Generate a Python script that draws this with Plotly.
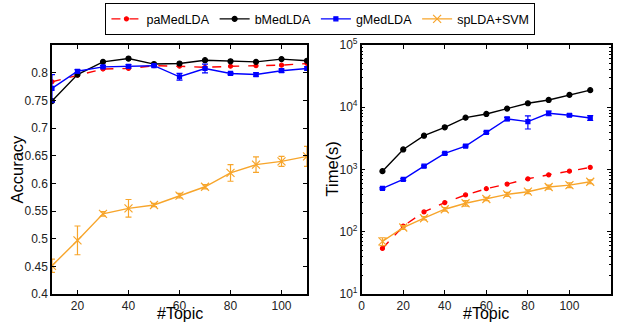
import plotly.graph_objects as go

topics = [10, 20, 30, 40, 50, 60, 70, 80, 90, 100, 110]

# Accuracy
acc_pa = [0.784, 0.796, 0.807, 0.808, 0.813, 0.812, 0.810, 0.812, 0.813, 0.814, 0.817]
acc_b = [0.749, 0.797, 0.820, 0.826, 0.816, 0.817, 0.823, 0.821, 0.820, 0.825, 0.822]
acc_g = [0.772, 0.803, 0.811, 0.812, 0.813, 0.793, 0.808, 0.799, 0.797, 0.804, 0.808]
acc_g_err = [0.025, 0.003, 0.002, 0.003, 0.002, 0.006, 0.008, 0.002, 0.003, 0.003, 0.003]
acc_sp = [0.451, 0.497, 0.545, 0.555, 0.561, 0.578, 0.594, 0.619, 0.634, 0.640, 0.649]
acc_sp_err = [0.012, 0.026, 0.004, 0.016, 0.003, 0.004, 0.004, 0.015, 0.014, 0.009, 0.018]

# Time (s)
time_pa = [54, 123, 208, 294, 390, 491, 583, 709, 822, 940, 1080]
time_b = [940, 2100, 3490, 4760, 6810, 7800, 9510, 11600, 13100, 15800, 18800]
time_g = [497, 692, 1130, 1810, 2380, 3950, 6490, 5870, 8000, 7430, 6720]
time_g_err = [15, 25, 40, 60, 80, 150, 400, 1400, 700, 300, 600]
time_sp = [70, 117, 165, 230, 287, 336, 399, 440, 523, 562, 635]
time_sp_err = [10, 8, 10, 15, 30, 20, 30, 30, 40, 50, 45]

x_title = "#Topic"
acc_title = "Accuracy"
time_title = "Time(s)"

RED = "#FF0000"
BLACK = "#000000"
BLUE = "#0000FF"
ORANGE = "#F7A52B"

fig = go.Figure()

def add(x, y, name, color, dash, symbol, msize, xa, ya, err=None, show=False):
    kw = {}
    if err is not None:
        kw["error_y"] = dict(type="data", array=err, visible=True, color=color, thickness=1.2, width=3)
    fig.add_trace(go.Scatter(
        x=x, y=y, name=name, mode="lines+markers",
        line=dict(color=color, width=1.4, dash=dash),
        marker=dict(color=color, symbol=symbol, size=msize,
                    line=dict(color=color, width=1.2)),
        xaxis=xa, yaxis=ya, showlegend=show, **kw))

add(topics, acc_pa, "paMedLDA", RED, "dash", "circle", 4, "x", "y", show=True)
add(topics, acc_b, "bMedLDA", BLACK, "solid", "circle", 5, "x", "y", show=True)
add(topics, acc_g, "gMedLDA", BLUE, "solid", "square", 4, "x", "y", err=acc_g_err, show=True)
add(topics, acc_sp, "spLDA+SVM", ORANGE, "solid", "x-thin-open", 8, "x", "y", err=acc_sp_err, show=True)

add(topics, time_pa, "paMedLDA", RED, "dash", "circle", 4, "x2", "y2")
add(topics, time_b, "bMedLDA", BLACK, "solid", "circle", 5, "x2", "y2")
add(topics, time_g, "gMedLDA", BLUE, "solid", "square", 4, "x2", "y2", err=time_g_err)
add(topics, time_sp, "spLDA+SVM", ORANGE, "solid", "x-thin-open", 8, "x2", "y2", err=time_sp_err)

FONT = "Liberation Sans, Arial, Helvetica, sans-serif"
tickfont = dict(family=FONT, size=12, color="#222222")
titlefont = dict(family=FONT, size=16.5, color="#000000")
xtitlefont = dict(family=FONT, size=16, color="#000000")

axis_common = dict(showline=True, linecolor="black", linewidth=1.5, mirror="ticks",
                   ticks="inside", ticklen=4, tickcolor="black", showgrid=False,
                   zeroline=False, tickfont=tickfont, automargin=False)

acc_ticks = [0.4, 0.45, 0.5, 0.55, 0.6, 0.65, 0.7, 0.75, 0.8]
acc_ticktext = ["0.4", "0.45", "0.5", "0.55", "0.6", "0.65", "0.7", "0.75", "0.8"]
time_ticks = [10, 100, 1000, 10000, 100000]
time_ticktext = ["10<sup>1</sup>", "10<sup>2</sup>", "10<sup>3</sup>", "10<sup>4</sup>", "10<sup>5</sup>"]

fig.update_layout(
    width=621, height=323,
    margin=dict(l=0, r=0, t=0, b=0),
    paper_bgcolor="white", plot_bgcolor="white",
    font=dict(family=FONT, color="black"),
    xaxis=dict(domain=[0.0837, 0.4944], range=[10, 110],
               tickvals=[20, 40, 60, 80, 100], **axis_common),
    yaxis=dict(domain=[0.0898, 0.8607], range=[0.4, 0.8505],
               tickvals=acc_ticks, ticktext=acc_ticktext, **axis_common),
    xaxis2=dict(domain=[0.5824, 0.9839], range=[0, 120], anchor="y2",
                tickvals=[0, 20, 40, 60, 80, 100, 120], **axis_common),
    yaxis2=dict(domain=[0.0898, 0.8607], type="log", range=[1, 5], anchor="x2",
                tickvals=time_ticks, ticktext=time_ticktext,
                minor=dict(ticks="inside", ticklen=2, tickcolor="black", dtick="D1"),
                **axis_common),
    legend=dict(orientation="h", x=0.516, xanchor="center", y=0.99, yanchor="top",
                bordercolor="black", borderwidth=1, bgcolor="white",
                font=dict(family=FONT, size=12.5, color="black"),
                tracegroupgap=0, entrywidth=0),
)

# axis titles
for xr in ["x domain", "x2 domain"]:
    fig.add_annotation(text=x_title, xref=xr, yref="paper", x=0.5, y=0,
                       xanchor="center", yanchor="bottom", borderpad=0,
                       showarrow=False, font=xtitlefont)
fig.add_annotation(text=acc_title, xref="paper", yref="y domain", x=17 / 621, y=0.5,
                   xanchor="center", yanchor="middle", textangle=-90, showarrow=False, font=titlefont)
fig.add_annotation(text=time_title, xref="paper", yref="y2 domain", x=332 / 621, y=0.5,
                   xanchor="center", yanchor="middle", textangle=-90, showarrow=False, font=titlefont)

fig.write_html("out.html", config={"displayModeBar": False},
               post_script="document.body.style.margin='0';")
